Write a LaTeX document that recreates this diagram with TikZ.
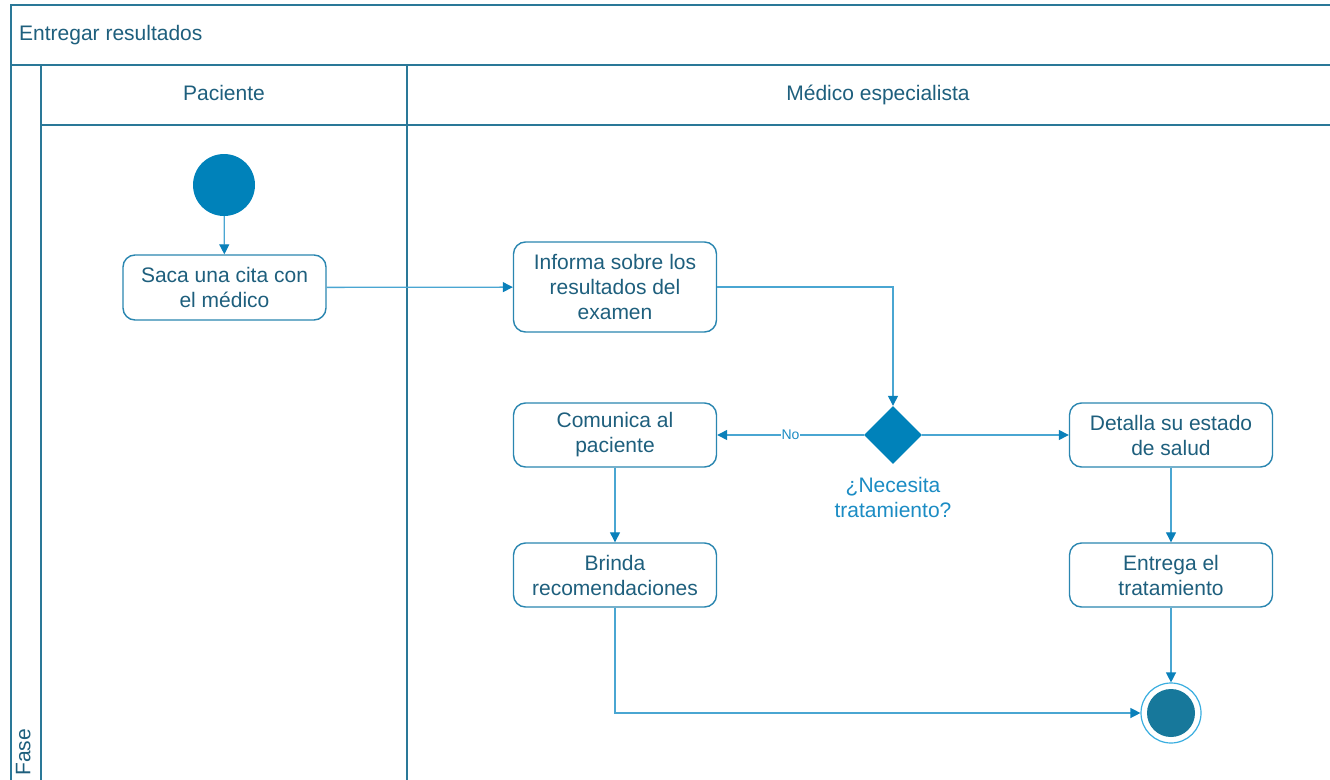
\documentclass[tikz,border=0pt]{standalone}
\usepackage{fontspec}
\setmainfont{Liberation Sans}
\usetikzlibrary{arrows.meta,shapes.geometric}

\definecolor{lanecol}{HTML}{2A7898}
\definecolor{txtcol}{HTML}{1E5F7D}
\definecolor{boxcol}{HTML}{2A86B0}
\definecolor{linecol}{HTML}{4AA6D2}
\definecolor{tipcol}{HTML}{0A80BA}
\definecolor{fillcol}{HTML}{0082BA}
\definecolor{endcol}{HTML}{17789B}
\definecolor{ringcol}{HTML}{3AAEE0}
\definecolor{qcol}{HTML}{1B8CC4}

\tikzset{
  lane/.style={draw=lanecol, line width=1.6pt},
  lanetext/.style={text=txtcol, font=\fontsize{21}{25}\selectfont, inner sep=3pt,
    text height=16pt, text depth=5pt},
  act/.style={draw=boxcol, line width=1.4pt, rounded corners=12pt, fill=white,
    minimum width=203pt, minimum height=65pt, align=center, text=txtcol,
    font=\fontsize{21}{25}\selectfont, inner sep=2pt},
  start/.style={circle, fill=fillcol, minimum size=62pt, inner sep=0pt},
  fin/.style={circle, draw=ringcol, line width=1.2pt, fill=white, minimum size=60pt, inner sep=0pt},
  finin/.style={circle, fill=endcol, minimum size=48pt, inner sep=0pt},
  dec/.style={diamond, fill=fillcol, minimum width=58pt, minimum height=58pt, inner sep=0pt},
  qtext/.style={text=qcol, align=center, font=\fontsize{21}{25}\selectfont},
  lbl/.style={fill=white, text=qcol, font=\fontsize{14}{16}\selectfont, inner sep=1pt},
  flow/.style={draw=linecol, line width=1.3pt, -{Triangle[length=10pt,width=10pt,color=tipcol]}}
}

\begin{document}
\begin{tikzpicture}[x=1pt, y=-1pt]
    \useasboundingbox (0,0) rectangle (1330,779);
    \clip (0,0) rectangle (1330,779);
    \fill[white] (0,0) rectangle (1330,779);
    % pool and lanes
    \draw[lane] (11,5) rectangle (1360,820);
    \draw[lane] (11,65) -- (1360,65);
    \draw[lane] (41,65) -- (41,820);
    \draw[lane] (41,125) -- (1360,125);
    \draw[lane] (407,65) -- (407,820);
    \node[lanetext, anchor=west] (proc) at (16,35) {Entregar resultados};
    \node[lanetext] (pac) at (224,95) {Paciente};
    \node[lanetext] (med) at (878,95) {Médico especialista};
    \node[lanetext, rotate=90, anchor=west] (fase) at (25,779) {Fase};
    % activities
    \node[start] (ini) at (224,185) {};
    \node[act] (saca) at (224.5,287.5) {Saca una cita con\\el médico};
    \node[act, minimum height=90pt] (info) at (615,287) {Informa sobre los\\resultados del\\examen};
    \node[dec] (pregunta) at (893,435) {};
    \node[qtext] (ptxt) at (893,497) {¿Necesita\\tratamiento?};
    \node[act, minimum height=64pt] (com) at (615,435) {Comunica al\\paciente};
    \node[act, minimum height=64pt] (det) at (1171,435) {Detalla su estado\\de salud};
    \node[act, minimum height=64pt] (brin) at (615,575) {Brinda\\recomendaciones};
    \node[act, minimum height=64pt] (entr) at (1171,575) {Entrega el\\tratamiento};
    \node[fin] (fin) at (1171,713) {};
    \node[finin] (finin) at (fin) {};
    % flows
    \draw[flow] (ini) -- (saca);
    \draw[flow] (saca) -- (info);
    \draw[flow] (info.east) -| (pregunta.north);
    \draw[flow] (pregunta) -- node[lbl] {No} (com);
    \draw[flow] (pregunta) -- (det);
    \draw[flow] (com) -- (brin);
    \draw[flow] (det) -- (entr);
    \draw[flow] (brin.south) |- (fin);
    \draw[flow] (entr) -- (fin);
\end{tikzpicture}
\end{document}
